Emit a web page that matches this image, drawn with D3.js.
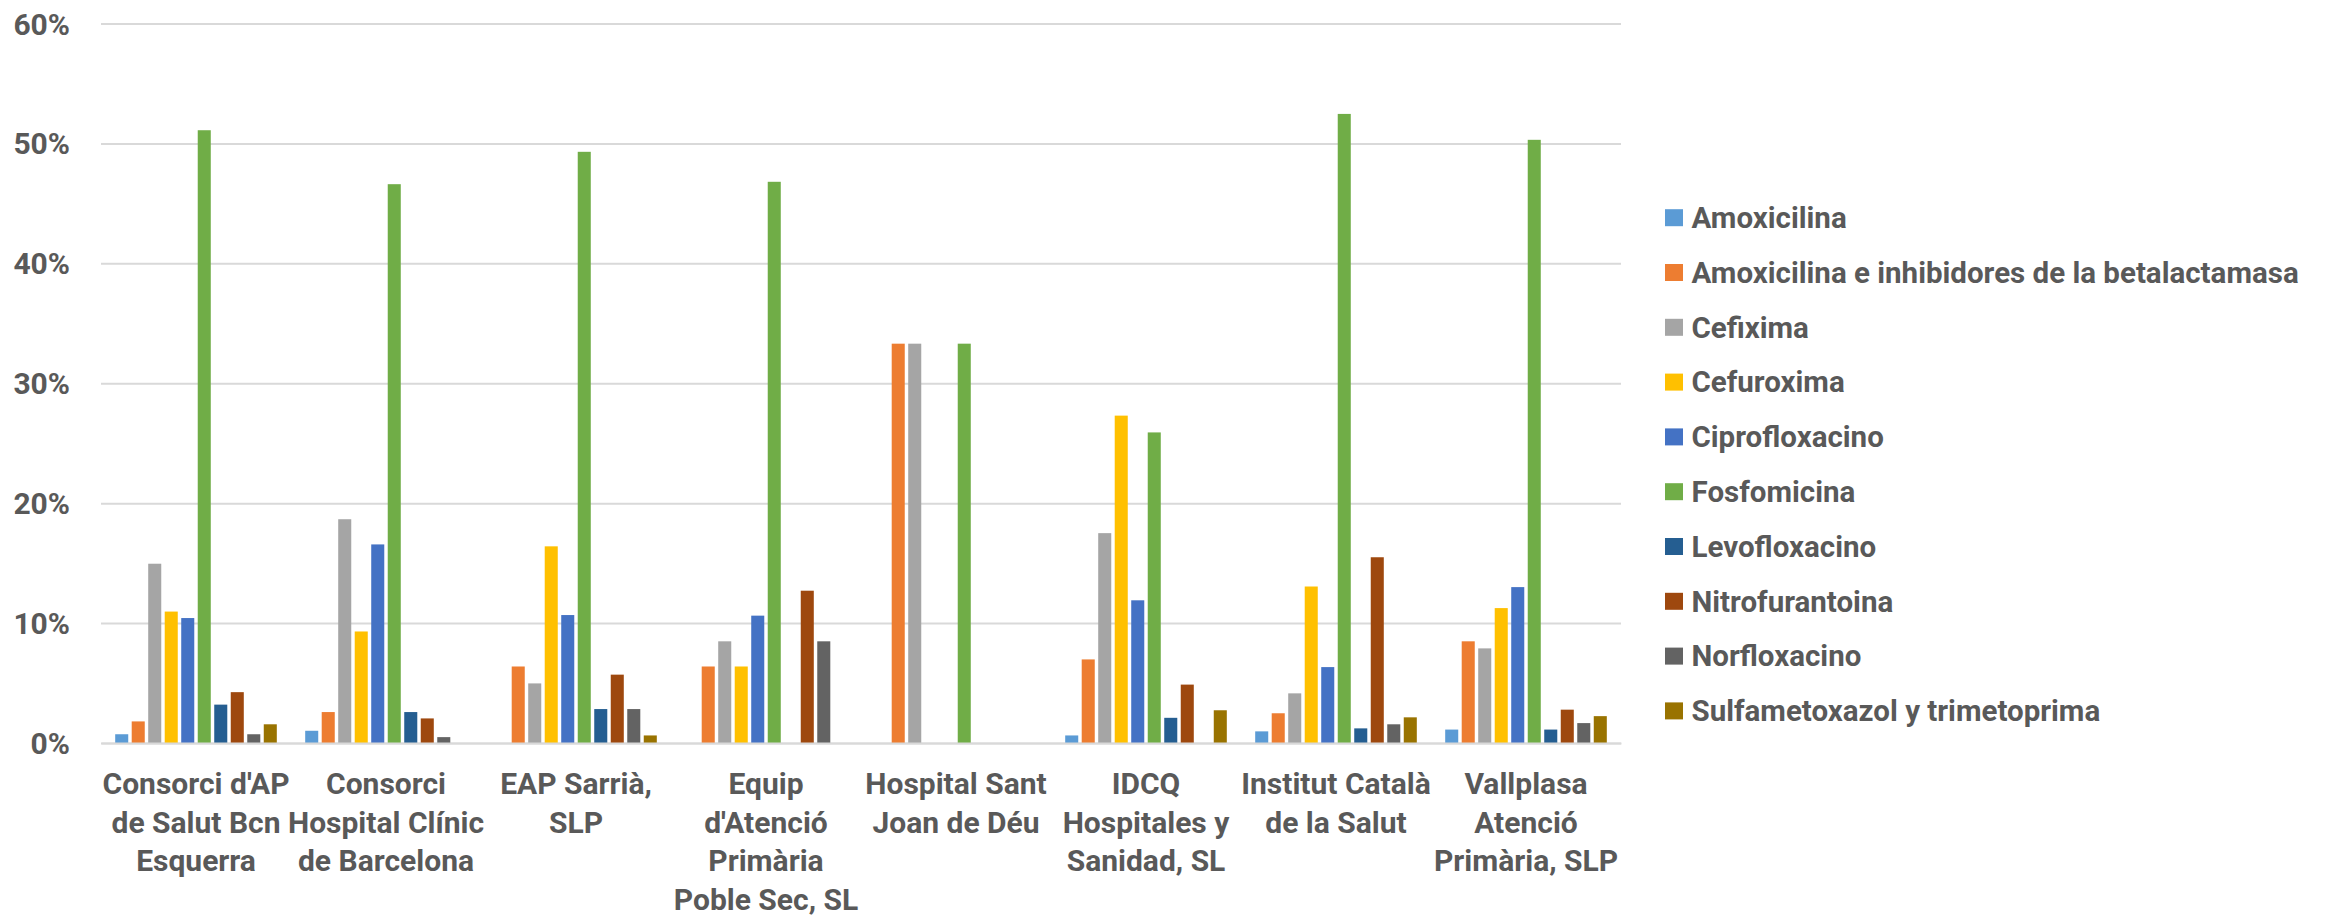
<!DOCTYPE html>
<html>
<head>
<meta charset="utf-8">
<script src="https://cdn.jsdelivr.net/npm/d3@7"></script>
<style>
  body { margin: 0; background: #fff; }
  text { font-family: "Liberation Sans Narrow", "Roboto", sans-serif; font-weight: bold; fill: #595959; }
</style>
</head>
<body>
<svg id="chart" width="2325" height="917"></svg>
<script>
// categories (one label per entity, split in lines as on the picture)
const categories = [
  "Consorci d'AP de Salut Bcn Esquerra",
  "Consorci Hospital Clínic de Barcelona",
  "EAP Sarrià, SLP",
  "Equip d'Atenció Primària Poble Sec, SL",
  "Hospital Sant Joan de Déu",
  "IDCQ Hospitales y Sanidad, SL",
  "Institut Català de la Salut",
  "Vallplasa Atenció Primària, SLP"
]
const categoryLines = [
  ["Consorci d'AP", "de Salut Bcn", "Esquerra"],
  ["Consorci", "Hospital Clínic", "de Barcelona"],
  ["EAP Sarrià,", "SLP"],
  ["Equip", "d'Atenció", "Primària", "Poble Sec, SL"],
  ["Hospital Sant", "Joan de Déu"],
  ["IDCQ", "Hospitales y", "Sanidad, SL"],
  ["Institut Català", "de la Salut"],
  ["Vallplasa", "Atenció", "Primària, SLP"]
]

// series values (fraction of prescriptions), one value per category
const amoxicilina    = [0.0073, 0.0102, 0,      0,      0,     0.0063, 0.0097, 0.0112]
const amoxInhibidor  = [0.018,  0.0258, 0.0638, 0.0638, 0.333, 0.0697, 0.0248, 0.0848]
const cefixima       = [0.1495, 0.1866, 0.0497, 0.0848, 0.333, 0.175,  0.0414, 0.0789]
const cefuroxima     = [0.1096, 0.093,  0.164,  0.0638, 0,     0.273,  0.1305, 0.1125]
const ciprofloxacino = [0.1042, 0.1656, 0.1067, 0.1062, 0,     0.119,  0.0633, 0.130]
const fosfomicina    = [0.511,  0.466,  0.493,  0.468,  0.333, 0.259,  0.5246, 0.503]
const levofloxacino  = [0.032,  0.0258, 0.0283, 0,      0,     0.021,  0.0122, 0.0112]
const nitrofurantoina= [0.0424, 0.0205, 0.057,  0.127,  0,     0.0487, 0.1549, 0.0278]
const norfloxacino   = [0.0073, 0.0049, 0.0283, 0.0848, 0,     0,      0.0156, 0.0166]
const sulfametoxazol = [0.0156, 0,      0.0063, 0,      0,     0.0273, 0.0214, 0.0224]

const seriesNames = ["Amoxicilina", "Amoxicilina e inhibidores de la betalactamasa", "Cefixima",
  "Cefuroxima", "Ciprofloxacino", "Fosfomicina", "Levofloxacino", "Nitrofurantoina",
  "Norfloxacino", "Sulfametoxazol y trimetoprima"]
const seriesValues = [amoxicilina, amoxInhibidor, cefixima, cefuroxima, ciprofloxacino,
  fosfomicina, levofloxacino, nitrofurantoina, norfloxacino, sulfametoxazol]
const colors = ["#5B9BD5", "#ED7D31", "#A5A5A5", "#FFC000", "#4472C4",
  "#70AD47", "#255E91", "#9E480E", "#636363", "#997300"]

const yTicks = [0, 0.1, 0.2, 0.3, 0.4, 0.5, 0.6]

let svg = d3.select("#chart")

// plot area
let plotLeft = 101, plotRight = 1621, plotTop = 23.5, plotBottom = 743

let x0 = d3.scaleBand().domain(categories).range([plotLeft, plotRight]).padding(0)
let x1 = d3.scaleBand().domain(seriesNames).range([0, x0.bandwidth()])
  .paddingInner(0.21).paddingOuter(0.86)
let y = d3.scaleLinear().domain([0, 0.6]).range([plotBottom, plotTop])
let color = d3.scaleOrdinal().domain(seriesNames).range(colors)

// gridlines + y labels
let yAxis = svg.append('g')
  .attr('transform', `translate(${plotLeft},0)`)
  .call(d3.axisLeft(y).tickValues(yTicks).tickSize(-(plotRight - plotLeft)).tickPadding(31)
    .tickFormat(d3.format('.0%')))
yAxis.select('.domain').remove()
yAxis.selectAll('.tick line').style('stroke', '#d9d9d9').style('stroke-width', 2)
yAxis.selectAll('.tick text').style('font-size', '30px').attr('dy', '0.35em')

// bars
let groups = svg.append('g').selectAll('g')
  .data(categories)
  .join('g')
  .attr('transform', d => `translate(${x0(d)},0)`)

groups.selectAll('rect')
  .data((d, i) => seriesNames.map((s, j) => ({ s: s, v: seriesValues[j][i] })))
  .join('rect')
  .attr('x', d => x1(d.s))
  .attr('y', d => y(d.v))
  .attr('width', x1.bandwidth())
  .attr('height', d => plotBottom - y(d.v))
  .style('fill', d => color(d.s))

// x axis
let xAxis = svg.append('g')
  .attr('transform', `translate(0,${plotBottom})`)
  .call(d3.axisBottom(x0).tickSize(0).tickFormat(''))
xAxis.select('.domain').style('stroke', '#d9d9d9').style('stroke-width', 2)

xAxis.selectAll('.tick').each(function (d, i) {
  let t = d3.select(this).append('text')
    .attr('text-anchor', 'middle')
    .attr('y', 51)
    .style('font-size', '30px')
  categoryLines[i].forEach((line, k) => {
    t.append('tspan').attr('x', 0).attr('dy', k == 0 ? 0 : 38.6).text(line)
  })
})

// legend
let legend = svg.append('g').attr('transform', 'translate(1665,0)')
seriesNames.forEach((s, i) => {
  let cy = 217.7 + i * 54.8
  legend.append('rect')
    .attr('x', 0)
    .attr('y', cy - 8.5)
    .attr('width', 18)
    .attr('height', 17)
    .style('fill', colors[i])
  legend.append('text')
    .attr('x', 26.5)
    .attr('y', cy)
    .attr('dy', '0.35em')
    .style('font-size', '29.5px')
    .text(s)
})
</script>
</body>
</html>
